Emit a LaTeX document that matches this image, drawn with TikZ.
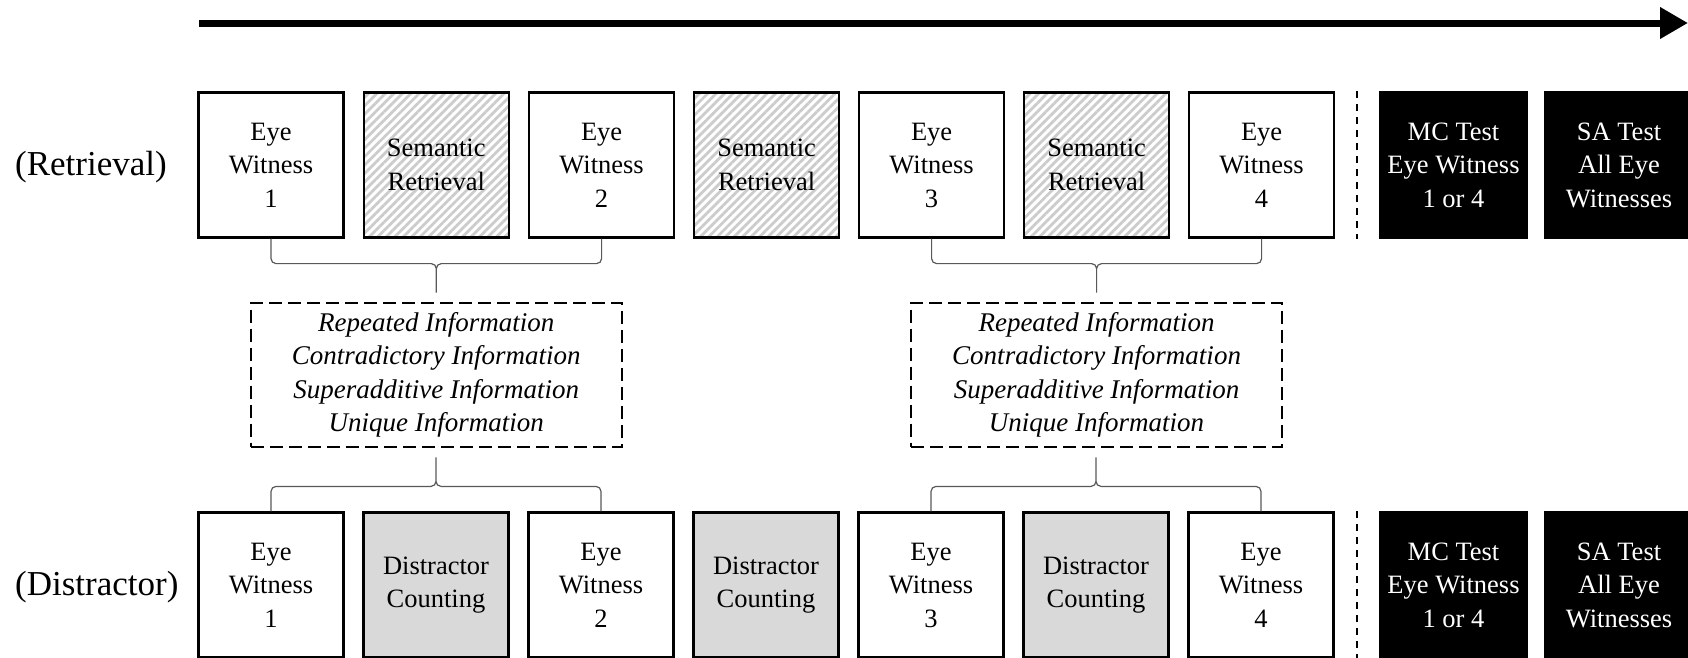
\documentclass[tikz,border=0pt]{standalone}
\usepackage{fontspec}
\setmainfont{Liberation Serif}
\usetikzlibrary{positioning,calc,arrows.meta,patterns.meta}
\tikzstyle{ew-box} = [draw=black, line width=2.2pt, rectangle,
    minimum width=145pt, minimum height=145pt, inner sep=0pt,
    align=center, font=\fontsize{26.5}{33.5}\selectfont]
\tikzstyle{sr-box} = [ew-box, pattern={Lines[angle=45,distance=6pt,line width=2.8pt]},
    pattern color=black!20]
\tikzstyle{dc-box} = [ew-box, fill=black!15]
\tikzstyle{test-box} = [ew-box, fill=black, text=white, minimum width=147pt]
\tikzstyle{info-box} = [draw=black, line width=2.2pt, dash pattern=on 13pt off 6pt,
    minimum width=371pt, minimum height=144pt, align=center,
    font=\itshape\fontsize{27}{33.5}\selectfont]
\tikzstyle{row-label} = [anchor=west, inner sep=0pt, font=\fontsize{35}{40}\selectfont]
\tikzstyle{brace-line} = [draw=black!65, line width=1.2pt, rounded corners=5pt]
\tikzstyle{sep-line} = [draw=black, line width=2.2pt, dash pattern=on 7pt off 6pt]
\tikzstyle{time-arrow} = [draw=black, line width=7pt, -{Triangle[length=28pt,width=30pt]}]

\begin{document}
\begin{tikzpicture}[x=1pt,y=-1pt]
\useasboundingbox (0,0) rectangle (1688,657);
% time line
\coordinate (t0) at (199,23);
\coordinate (t1) at (1688,23);
\draw[time-arrow] (t0) -- (t1);

% retrieval condition
\node[row-label] (lr) at (15,167) {(Retrieval)};
\node[ew-box] (r1) at (271,165) {Eye\\Witness\\1};
\node[sr-box, right=17.8pt of r1] (r2) {Semantic\\Retrieval};
\node[ew-box, right=17.8pt of r2] (r3) {Eye\\Witness\\2};
\node[sr-box, right=17.8pt of r3] (r4) {Semantic\\Retrieval};
\node[ew-box, right=17.8pt of r4] (r5) {Eye\\Witness\\3};
\node[sr-box, right=17.8pt of r5] (r6) {Semantic\\Retrieval};
\node[ew-box, right=17.8pt of r6] (r7) {Eye\\Witness\\4};
\node[test-box] (r8) at (1453.5,165) {MC Test\\Eye Witness\\1 or 4};
\node[test-box, right=16.3pt of r8] (r9) {SA Test\\All Eye\\Witnesses};
\draw[sep-line] ($(r7.north east)!.5!(r8.north west)$) -- ($(r7.south east)!.5!(r8.south west)$);

% distractor condition
\node[row-label] (ld) at (15,587) {(Distractor)};
\node[ew-box] (d1) at (271,585) {Eye\\Witness\\1};
\node[dc-box, right=17.8pt of d1] (d2) {Distractor\\Counting};
\node[ew-box, right=17.8pt of d2] (d3) {Eye\\Witness\\2};
\node[dc-box, right=17.8pt of d3] (d4) {Distractor\\Counting};
\node[ew-box, right=17.8pt of d4] (d5) {Eye\\Witness\\3};
\node[dc-box, right=17.8pt of d5] (d6) {Distractor\\Counting};
\node[ew-box, right=17.8pt of d6] (d7) {Eye\\Witness\\4};
\node[test-box] (d8) at (1453.5,585) {MC Test\\Eye Witness\\1 or 4};
\node[test-box, right=16.3pt of d8] (d9) {SA Test\\All Eye\\Witnesses};
\draw[sep-line] ($(d7.north east)!.5!(d8.north west)$) -- ($(d7.south east)!.5!(d8.south west)$);

% information types between the pairs
\coordinate (b1) at ($(r1.south)!.5!(r3.south)+(0,25)$);
\coordinate (b2) at ($(r5.south)!.5!(r7.south)+(0,25)$);
\node[info-box, below=38pt of b1] (i1) {Repeated Information\\Contradictory Information\\Superadditive Information\\Unique Information};
\node[info-box, below=38pt of b2] (i2) {Repeated Information\\Contradictory Information\\Superadditive Information\\Unique Information};
\draw[brace-line] (r1.south) |- (b1) -- ++(0,29) (r3.south) |- (b1) -- ++(0,29);
\draw[brace-line] (r5.south) |- (b2) -- ++(0,29) (r7.south) |- (b2) -- ++(0,29);
\coordinate (c1) at ($(d1.north)!.5!(d3.north)+(0,-25)$);
\coordinate (c2) at ($(d5.north)!.5!(d7.north)+(0,-25)$);
\draw[brace-line] (d1.north) |- (c1) -- ++(0,-29) (d3.north) |- (c1) -- ++(0,-29);
\draw[brace-line] (d5.north) |- (c2) -- ++(0,-29) (d7.north) |- (c2) -- ++(0,-29);
\end{tikzpicture}
\end{document}
